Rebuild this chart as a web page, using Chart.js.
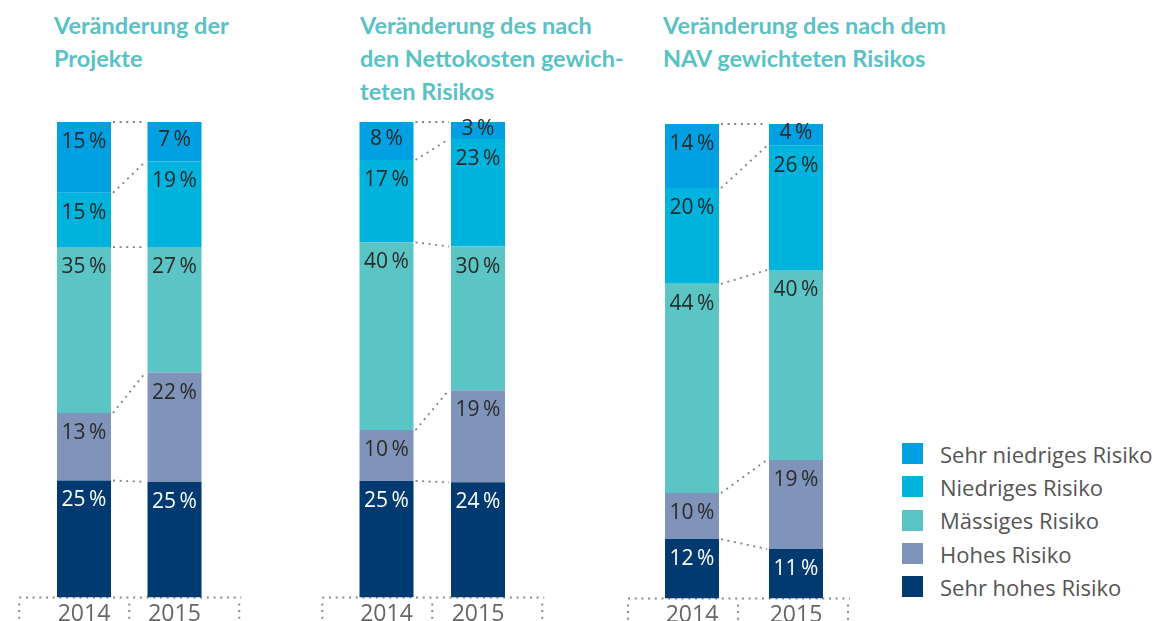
<!DOCTYPE html>
<html>
<head>
<meta charset="utf-8">
<script src="https://cdn.jsdelivr.net/npm/chart.js@4.4.1/dist/chart.umd.min.js"></script>
<style>
  body { margin: 0; width: 1156px; height: 621px; overflow: hidden; background: #fff; position: relative; font-family: "Open Sans", sans-serif; }
  .title { position: absolute; top: 9px; font-family: Lato, sans-serif; font-weight: 700; font-size: 23.5px; line-height: 33px; color: #5ac2c4; white-space: nowrap; }
  canvas { position: absolute; top: 0; }
  #legend { position: absolute; left: 902px; top: 437px; }
  .item { height: 33.3px; display: flex; align-items: center; font-size: 22px; color: #555; }
  .box { width: 21px; height: 21px; margin-right: 17px; }
</style>
</head>
<body>
<div class="title" style="left:54px">Veränderung der<br>Projekte</div>
<div class="title" style="left:360px">Veränderung des nach<br>den Nettokosten gewich-<br>teten Risikos</div>
<div class="title" style="left:663px">Veränderung des nach dem<br>NAV gewichteten Risikos</div>

<canvas id="c1" width="260" height="631" style="left:0px"></canvas>
<canvas id="c2" width="260" height="631" style="left:300px"></canvas>
<canvas id="c3" width="280" height="632" style="left:600px"></canvas>
<div id="legend"></div>

<script>
  // Kategorien und Reihen (von unten nach oben gestapelt)
  const jahre = ['2014', '2015'];
  const reihen = ['Sehr hohes Risiko', 'Hohes Risiko', 'Mässiges Risiko', 'Niedriges Risiko', 'Sehr niedriges Risiko'];
  const farben = ['#003a70', '#8094ba', '#5bc5c5', '#00b3dc', '#00a0e2'];

  // Balkenanteile in %, Reihenfolge wie "reihen"
  const projekte2014 = [24.6, 14.2, 34.9, 11.4, 14.9];
  const projekte2015 = [24.3, 23.0, 26.4, 18.0, 8.3];
  const netto2014 = [24.5, 10.7, 39.5, 17.3, 8.0];
  const netto2015 = [24.2, 19.4, 30.2, 22.6, 3.6];
  const nav2014 = [12.5, 9.7, 44.1, 20.2, 13.5];
  const nav2015 = [10.4, 18.8, 40.0, 26.2, 4.6];

  // Beschriftungen in den Balken
  const projekteLbl2014 = [25, 13, 35, 15, 15];
  const projekteLbl2015 = [25, 22, 27, 19, 7];
  const nettoLbl2014 = [25, 10, 40, 17, 8];
  const nettoLbl2015 = [24, 19, 30, 23, 3];
  const navLbl2014 = [12, 10, 44, 20, 14];
  const navLbl2015 = [11, 19, 40, 26, 4];

  // Punktlinien, Grundlinie und Prozentwerte
  const dekor = {
    id: 'dekor',
    beforeDatasetsDraw(chart, args, opts) {
      const ctx = chart.ctx;
      const mid = chart.scales.x.getPixelForValue(0.5) + (opts.shift || 0);
      const y0 = chart.scales.y.getPixelForValue(0);
      ctx.save();
      ctx.strokeStyle = '#8a8a8a';
      ctx.lineWidth = 2;
      ctx.setLineDash([2, 4.7]);
      ctx.beginPath();
      ctx.moveTo(mid - 110, y0);
      ctx.lineTo(mid + 112, y0);
      [-110, 0, 110].forEach(d => {
        ctx.moveTo(mid + d, y0 + 6);
        ctx.lineTo(mid + d, y0 + 22);
      });
      ctx.stroke();
      ctx.restore();
    },
    afterDatasetsDraw(chart, args, opts) {
      const ctx = chart.ctx;
      ctx.save();
      // Verbindungslinien zwischen den Segmentkanten
      ctx.strokeStyle = '#808080';
      ctx.lineWidth = 1.8;
      ctx.setLineDash([2, 4.6]);
      chart.data.datasets.forEach((ds, i) => {
        const [a, b] = chart.getDatasetMeta(i).data;
        ctx.beginPath();
        ctx.moveTo(a.x + a.width / 2 + 2, a.y);
        ctx.lineTo(b.x - b.width / 2 - 2, b.y);
        ctx.stroke();
      });
      ctx.setLineDash([]);
      // Prozentwerte
      ctx.font = '21px "Open Sans"';
      ctx.textAlign = 'center';
      ctx.textBaseline = 'middle';
      chart.data.datasets.forEach((ds, i) => {
        chart.getDatasetMeta(i).data.forEach((bar, j) => {
          const h = bar.base - bar.y;
          const ty = bar.y + Math.min(20, h / 2 - 2);
          ctx.fillStyle = i === 0 ? '#ffffff' : '#2a2a2a';
          ctx.fillText(ds.labels[j] + '\u2009%', bar.x, ty);
        });
      });
      ctx.restore();
    }
  };

  function panel(id, d14, d15, l14, l15, pad, barPct, shift) {
    const datasets = reihen.map((name, i) => ({
      label: name,
      data: [d14[i], d15[i]],
      labels: [l14[i], l15[i]],
      backgroundColor: farben[i],
      borderWidth: 0,
      barPercentage: barPct,
      categoryPercentage: 1
    }));
    new Chart(document.getElementById(id), {
      type: 'bar',
      data: { labels: jahre, datasets: datasets },
      options: {
        responsive: false,
        animation: false,
        layout: { padding: pad },
        plugins: {
          legend: { display: false },
          tooltip: { enabled: false },
          dekor: { shift: shift }
        },
        scales: {
          x: {
            stacked: true,
            grid: { display: false, drawTicks: false },
            border: { display: false },
            ticks: { color: '#666', font: { family: 'Open Sans', size: 23 }, padding: 3 }
          },
          y: { stacked: true, min: 0, max: 100, display: false }
        }
      },
      plugins: [dekor]
    });
  }

  panel('c1', projekte2014, projekte2015, projekteLbl2014, projekteLbl2015,
    { left: 38.75, right: 40.25, top: 122, bottom: 0 }, 0.597, 0);
  panel('c2', netto2014, netto2015, nettoLbl2014, nettoLbl2015,
    { left: 40.75, right: 36.25, top: 122, bottom: 0 }, 0.59, 0);
  panel('c3', nav2014, nav2015, navLbl2014, navLbl2015,
    { left: 40, right: 32, top: 124, bottom: 0 }, 0.519, -6);

  // Legende (oben: Sehr niedriges Risiko)
  const legend = document.getElementById('legend');
  reihen.slice().reverse().forEach((name, k) => {
    const i = reihen.length - 1 - k;
    const row = document.createElement('div');
    row.className = 'item';
    const box = document.createElement('span');
    box.className = 'box';
    box.style.background = farben[i];
    row.appendChild(box);
    row.appendChild(document.createTextNode(name));
    legend.appendChild(row);
  });
</script>
</body>
</html>
